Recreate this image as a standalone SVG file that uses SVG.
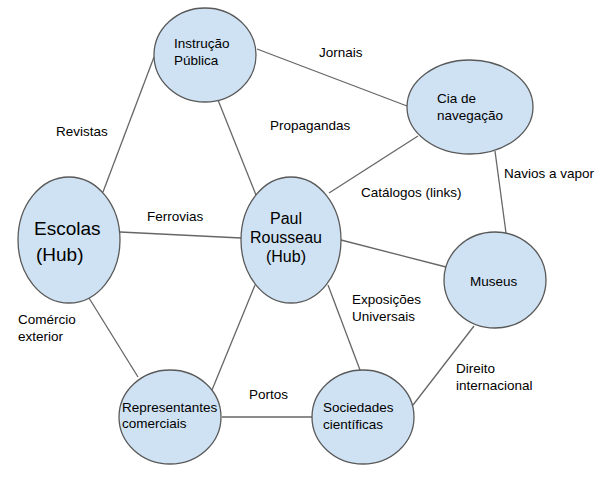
<svg xmlns="http://www.w3.org/2000/svg" width="603" height="478" viewBox="0 0 603 478">
<style>
.n{fill:#cfe2f3;stroke:#595959;stroke-width:1.3}
.e{stroke:#666;stroke-width:1.3;fill:none}
text{font-family:"Liberation Sans",Arial,sans-serif;font-size:13.5px;fill:#000}
.big{font-size:19px}
.mid{font-size:16px}
</style>
<rect width="603" height="478" fill="#fff"/>
<g id="connectors">
<line class="e" x1="103" y1="192" x2="154" y2="57"/>
<line class="e" x1="218" y1="100" x2="256" y2="195"/>
<line class="e" x1="257" y1="49" x2="407" y2="106"/>
<line class="e" x1="120" y1="232" x2="241" y2="238"/>
<line class="e" x1="329" y1="193" x2="418" y2="136"/>
<line class="e" x1="495" y1="151" x2="506" y2="233"/>
<line class="e" x1="341" y1="240" x2="446" y2="267"/>
<line class="e" x1="89" y1="298" x2="138" y2="377"/>
<line class="e" x1="255" y1="285" x2="212" y2="390"/>
<line class="e" x1="328" y1="285" x2="360" y2="370"/>
<line class="e" x1="222" y1="417" x2="313" y2="417"/>
<line class="e" x1="474" y1="326" x2="413" y2="405"/>
</g>
<g id="labels">
<text x="56" y="136">Revistas</text>
<text x="147" y="221">Ferrovias</text>
<text x="270" y="130">Propagandas</text>
<text x="319" y="57">Jornais</text>
<text x="504" y="178">Navios a vapor</text>
<text x="361" y="197">Catálogos (links)</text>
<text x="18" y="324">Comércio</text>
<text x="18" y="341">exterior</text>
<text x="249" y="399">Portos</text>
<text x="352" y="304">Exposições</text>
<text x="352" y="321">Universais</text>
<text x="456" y="373">Direito</text>
<text x="456" y="390">internacional</text>
</g>
<g id="instrucao">
<ellipse class="n" cx="205" cy="55" rx="51" ry="47"/>
<text x="174" y="48">Instrução</text>
<text x="174" y="65">Pública</text>
</g>
<g id="cia">
<ellipse class="n" cx="470" cy="107" rx="63" ry="47"/>
<text x="437" y="103">Cia de</text>
<text x="437" y="120">navegação</text>
</g>
<g id="escolas">
<ellipse class="n" cx="69" cy="240" rx="51" ry="63"/>
<text class="big" x="34" y="235">Escolas</text>
<text class="big" x="36" y="261">(Hub)</text>
</g>
<g id="paul">
<ellipse class="n" cx="291" cy="240" rx="50" ry="63"/>
<text class="mid" x="286" y="224" text-anchor="middle">Paul</text>
<text class="mid" x="286" y="243" text-anchor="middle">Rousseau</text>
<text class="mid" x="286" y="262" text-anchor="middle">(Hub)</text>
</g>
<g id="museus">
<ellipse class="n" cx="495" cy="280" rx="51" ry="48"/>
<text x="470" y="286">Museus</text>
</g>
<g id="representantes">
<ellipse class="n" cx="170" cy="417" rx="51" ry="47"/>
<text x="122" y="412">Representantes</text>
<text x="122" y="428">comerciais</text>
</g>
<g id="sociedades">
<ellipse class="n" cx="363" cy="417" rx="51" ry="47"/>
<text x="323" y="412">Sociedades</text>
<text x="323" y="429">científicas</text>
</g>
</svg>
